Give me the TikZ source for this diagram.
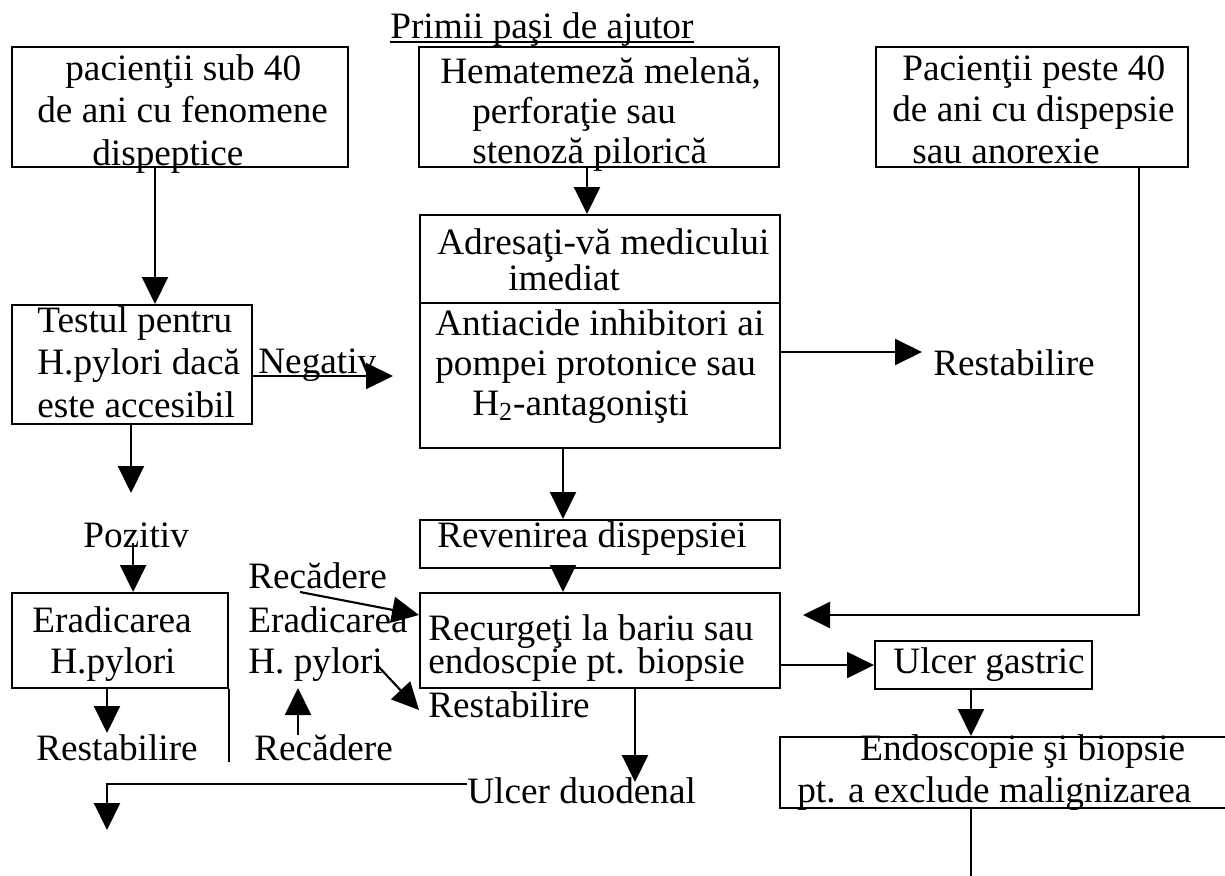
\documentclass[tikz,border=0pt]{standalone}
\usepackage{fontspec}
\setmainfont{Liberation Serif}
\usetikzlibrary{arrows.meta,calc}
\newcommand\figfont{\fontsize{21.2}{23.6}\selectfont}
\newcommand\figskip[1]{\fontsize{21.2}{#1}\selectfont\lineskiplimit=-50pt}

\begin{document}
\begin{tikzpicture}[x=0.02cm, y=-0.02cm, font=\figfont,
    box/.style={draw, line width=1.2pt, inner sep=0pt, anchor=north west},
    txt/.style={inner sep=0pt, anchor=base west, align=left},
    arr/.style={line width=1.2pt, -{Triangle[length=0.54cm, width=0.52cm]}},
    ln/.style={line width=1.2pt}]
  \useasboundingbox (0,0) rectangle (1225,876);

  % Title
  \node[txt] (title) at (390,38) {Primii paşi de ajutor};
  \draw[line width=0.8pt] ($(title.base west)+(0,4)$) -- ($(title.base east)+(0,4)$);

  % Boxes
  \node[box, minimum width=6.72cm, minimum height=2.4cm] (young) at (11,46) {};
  \node[box, minimum width=7.2cm, minimum height=2.4cm] (bleed) at (418,46) {};
  \node[box, minimum width=6.24cm, minimum height=2.4cm] (old) at (875,46) {};
  \node[box, minimum width=7.2cm, minimum height=4.66cm] (doctor) at (419,214) {};
  \node[box, minimum width=4.8cm, minimum height=2.38cm] (test) at (11,304) {};
  \node[box, minimum width=7.2cm, minimum height=0.96cm] (relapse) at (419,519) {};
  \node[box, minimum width=4.32cm, minimum height=1.9cm] (erad) at (11,592) {};
  \node[box, minimum width=7.2cm, minimum height=1.9cm] (barium) at (419,592) {};
  \node[box, minimum width=4.34cm, minimum height=0.96cm] (gastric) at (874,640) {};
  \node[box, minimum width=9.22cm, minimum height=1.42cm] (endo) at (779,736) {};
  \draw[ln] ($(doctor.north west)+(0,89)$) -- ($(doctor.north east)+(0,89)$);
  \draw[ln] (erad.south east) -- ++(0,73);

  % Box texts (base = last line)
  \node[txt, font=\figskip{24.1}] (tyoung) at (37,165)
    {\hspace*{0.56cm}pacienţii sub 40\\de ani cu fenomene\\\hspace*{1.1cm}dispeptice};
  \node[txt, font=\figskip{22.7}] (tbleed) at (440,163)
    {Hematemeză melenă,\\\hspace*{0.64cm}perforaţie sau\\\hspace*{0.64cm}stenoză pilorică};
  \node[txt, font=\figskip{23.5}] (told) at (892,163)
    {\hspace*{0.2cm}Pacienţii peste 40\\de ani cu dispepsie\\\hspace*{0.4cm}sau anorexie};
  \node[txt, font=\figskip{20.4}] (tdoctor) at (437,290)
    {Adresaţi-vă medicului\\\hspace*{1.42cm}imediat};
  \node[txt, font=\figskip{22.7}] (tdrugs) at (435,415)
    {Antiacide inhibitori ai\\pompei protonice sau\\\hspace*{0.74cm}H\textsubscript{2}-antagonişti};
  \node[txt, font=\figskip{24.1}] (ttest) at (37,417)
    {Testul pentru\\H.pylori dacă\\este accesibil};
  \node[txt] (trelapse) at (437,547) {Revenirea dispepsiei};
  \node[txt, font=\figskip{23.2}] (terad) at (32,673)
    {Eradicarea\\\hspace*{0.36cm}H.pylori};
  \node[txt, font=\figskip{18.6}] (tbarium) at (428,673)
    {Recurgeţi la bariu sau\\endoscpie pt. biopsie};
  \node[txt] (tgastric) at (893,673) {Ulcer gastric};
  \node[txt, font=\figskip{23.8}] (tendo) at (797,802)
    {\hspace*{1.26cm}Endoscopie şi biopsie\\pt. a exclude malignizarea};

  % Free labels
  \node[txt] (negativ) at (258,373) {Negativ};
  \node[txt] (restab1) at (933,375) {Restabilire};
  \node[txt] (pozitiv) at (83,547) {Pozitiv};
  \node[txt] (restab2) at (36,760) {Restabilire};
  \node[txt] (recad1) at (248,588) {Recădere};
  \node[txt, font=\figskip{23.2}] (terad2) at (248,673) {Eradicarea\\H. pylori};
  \node[txt] (recad2) at (254,760) {Recădere};
  \node[txt] (restab3) at (428,717) {Restabilire};
  \node[txt] (duoden) at (467,803) {Ulcer duodenal};

  % Free ends
  \coordinate (negtip) at (393,376);
  \coordinate (restip) at (922,352);
  \coordinate (postip) at (131,493);
  \coordinate (erdtip) at (107,733);
  \coordinate (rec1) at (300,592);
  \coordinate (pyl) at (377,665);
  \coordinate (rs3tip) at (419,710);
  \coordinate (rec2) at (298,735);
  \coordinate (rec2tip) at (298,688);
  \coordinate (oldtip) at (803,615);
  \coordinate (duotip) at (107,830);

  % Connectors
  \draw[arr] ($(young.south west)+(144,0)$) -- ($(test.north west)+(144,0)$);
  \draw[arr] ($(bleed.south west)+(169,0)$) -- ($(doctor.north west)+(168,0)$);
  \draw[arr] (test.east |- negtip) -- (negtip);
  \draw[arr] (doctor.east |- restip) -- (restip);
  \draw[arr] (test.south -| postip) -- (postip);
  \draw[arr] ($(pozitiv.base)+(-3,-4)$) -- ($(pozitiv.base |- erad.north)+(-3,0)$);
  \draw[arr] (erad.south -| erdtip) -- (erdtip);
  \draw[arr] (rec1) -- ($(barium.north west)+(0,23)$);
  \draw[arr] (pyl) -- (rs3tip);
  \draw[arr] (rec2) -- (rec2tip);
  \draw[arr] ($(doctor.south west)+(144,0)$) -- ($(relapse.north west)+(144,0)$);
  \draw[arr] ($(relapse.south west)+(144,0)$) -- ($(barium.north west)+(144,0)$);
  \draw[arr] (barium.east |- gastric.west) -- (gastric.west);
  \draw[arr] ($(gastric.south west)+(97,0)$) -- ($(endo.north west)+(192,0)$);
  \draw[ln] ($(endo.south west)+(192,0)$) -- ++(0,80);
  \draw[arr] ($(old.south west)+(264,0)$) |- (oldtip);
  \draw[arr] ($(barium.south west)+(216,0)$) -- ($(duoden.base west)+(168,-21)$);
  \draw[arr] ($(duoden.base west)+(0,-19)$) -| (duotip);
\end{tikzpicture}
\end{document}
